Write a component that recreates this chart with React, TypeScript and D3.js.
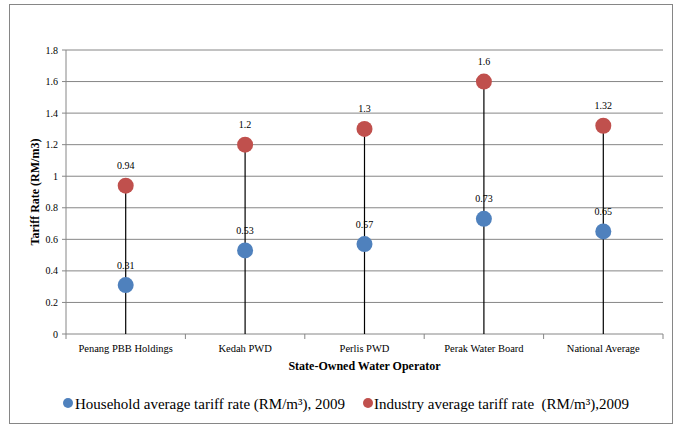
import React from "react";
import * as d3 from "d3";

const categories = ["Penang PBB Holdings", "Kedah PWD", "Perlis PWD", "Perak Water Board", "National Average"];
const household = [0.31, 0.53, 0.57, 0.73, 0.65];
const industry = [0.94, 1.2, 1.3, 1.6, 1.32];
const yTicks = [0, 0.2, 0.4, 0.6, 0.8, 1, 1.2, 1.4, 1.6, 1.8];
const seriesNames = ["Household average tariff rate (RM/m³), 2009", "Industry average tariff rate \u00a0(RM/m³),2009"];
const colors = ["#4F81BD", "#C0504D"];

export default function App() {
  const W = 683, H = 430;
  const left = 66, right = 663, top = 50, bottom = 334;
  const x = d3.scaleBand().domain(categories).range([left, right]).padding(0);
  const y = d3.scaleLinear().domain([0, 1.8]).range([bottom, top]);
  const font = "Liberation Serif, Times New Roman, DejaVu Serif, serif";
  const boundaries = [...categories.map((c) => x(c)!), right];
  return (
    <svg width={W} height={H} style={{ position: "absolute", left: 0, top: 0, fontFamily: font }}>
      <rect x={0} y={0} width={W} height={H} fill="white" />
      <rect x={9.5} y={4.5} width={663} height={419} fill="white" stroke="#868686" strokeWidth={1} />
      {yTicks.map((t) => (
        <g key={t}>
          <line x1={left} x2={right} y1={y(t)} y2={y(t)} stroke="#868686" strokeWidth={1} />
          <line x1={left - 4} x2={left} y1={y(t)} y2={y(t)} stroke="#868686" strokeWidth={1} />
          <text x={left - 8} y={y(t)} dy="0.35em" textAnchor="end" fontSize={10}>{d3.format("~g")(t)}</text>
        </g>
      ))}
      <line x1={left} x2={left} y1={top} y2={bottom} stroke="#868686" strokeWidth={1} />
      {boundaries.map((b, i) => (
        <line key={i} x1={b} x2={b} y1={bottom} y2={bottom + 5} stroke="#868686" strokeWidth={1} />
      ))}
      {categories.map((c, i) => {
        const cx = x(c)! + x.bandwidth() / 2;
        return (
          <g key={c}>
            <line x1={cx} x2={cx} y1={y(0)} y2={y(industry[i])} stroke="black" strokeWidth={1.2} />
            <circle cx={cx} cy={y(household[i])} r={8} fill={colors[0]} />
            <circle cx={cx} cy={y(industry[i])} r={8} fill={colors[1]} />
            <text x={cx} y={y(household[i]) - 20} dy="0.35em" textAnchor="middle" fontSize={10}>{household[i]}</text>
            <text x={cx} y={y(industry[i]) - 20} dy="0.35em" textAnchor="middle" fontSize={10}>{industry[i]}</text>
            <text x={cx} y={bottom + 14} dy="0.35em" textAnchor="middle" fontSize={10.5}>{c}</text>
          </g>
        );
      })}
      <text x={(left + right) / 2} y={366} dy="0.35em" textAnchor="middle" fontSize={12} fontWeight="bold">State-Owned Water Operator</text>
      <text transform={`translate(35,${(top + bottom) / 2}) rotate(-90)`} textAnchor="middle" dy="0.35em" fontSize={12} fontWeight="bold">Tariff Rate (RM/m3)</text>
      <circle cx={68} cy={403} r={5} fill={colors[0]} />
      <text x={75} y={404} dy="0.35em" fontSize={15}>{seriesNames[0]}</text>
      <circle cx={368} cy={403} r={5} fill={colors[1]} />
      <text x={374} y={404} dy="0.35em" fontSize={15}>{seriesNames[1]}</text>
    </svg>
  );
}
